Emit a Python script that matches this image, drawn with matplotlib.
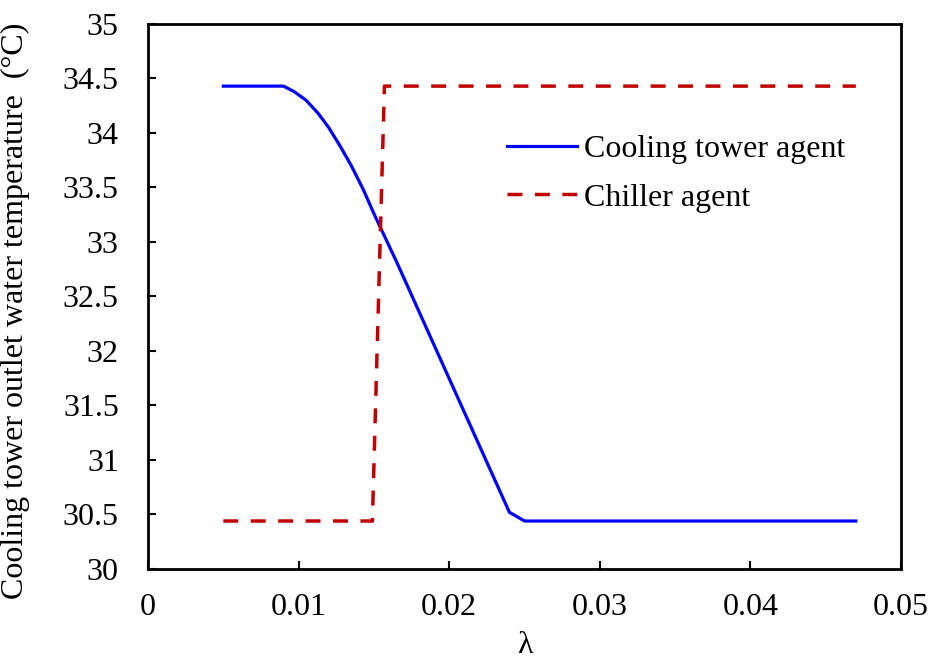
import matplotlib
matplotlib.use("Agg")
import matplotlib.pyplot as plt

plt.rcParams['font.family'] = ['Liberation Serif', 'DejaVu Serif']

# lambda values and outlet temperatures of the two agents
tower_lam = [0.005, 0.009, 0.0097, 0.0105, 0.0113, 0.012, 0.0128, 0.0135,
             0.0143, 0.015, 0.0165, 0.018, 0.0195, 0.021, 0.0225, 0.024,
             0.025, 0.047]
tower_temp = [34.43, 34.43, 34.38, 34.30, 34.18, 34.05, 33.87, 33.70,
              33.48, 33.26, 32.82, 32.36, 31.90, 31.44, 30.98, 30.52,
              30.44, 30.44]

chiller_lam = [0.005, 0.0149, 0.0157, 0.047]
chiller_temp = [30.44, 30.44, 34.43, 34.43]

x_ticks = [0, 0.01, 0.02, 0.03, 0.04, 0.05]
x_tick_labels = ["0", "0.01", "0.02", "0.03", "0.04", "0.05"]
y_ticks = [30, 30.5, 31, 31.5, 32, 32.5, 33, 33.5, 34, 34.5, 35]
y_tick_labels = ["30", "30.5", "31", "31.5", "32", "32.5", "33", "33.5", "34", "34.5", "35"]

fs = 23

fig = plt.figure(figsize=(9.35, 6.59), dpi=100)
ax = fig.add_axes([0.1583, 0.1366, 0.8053, 0.827])

ax.plot(tower_lam, tower_temp, color='#0000FF', lw=2.3, label='Cooling tower agent')
ax.plot(chiller_lam, chiller_temp, color='#C00000', lw=2.5, dashes=(4.3, 3.6),
        label='Chiller agent')

ax.set_xlim(0, 0.05)
ax.set_ylim(30, 35)
ax.set_xticks(x_ticks)
ax.set_xticklabels(x_tick_labels)
ax.set_yticks(y_ticks)
ax.set_yticklabels(y_tick_labels)

for s in ax.spines.values():
    s.set_linewidth(2.0)
ax.tick_params(axis='both', direction='in', length=6, width=1.5, labelsize=fs)
ax.tick_params(axis='x', pad=17)
ax.tick_params(axis='y', pad=21)

ax.set_xlabel('λ', fontsize=fs)
ax.set_ylabel('Cooling tower outlet water temperature  (°C)', fontsize=fs)
ax.xaxis.set_label_coords(0.5, -0.113)
ax.yaxis.set_label_coords(-0.157, 0.473)

ax.legend(loc='upper left', bbox_to_anchor=(0.477, 0.797), frameon=False,
          fontsize=fs, handlelength=2.2, handletextpad=0.2, labelspacing=0.6,
          borderpad=0, borderaxespad=0)

fig.savefig('out.png', dpi=100)
